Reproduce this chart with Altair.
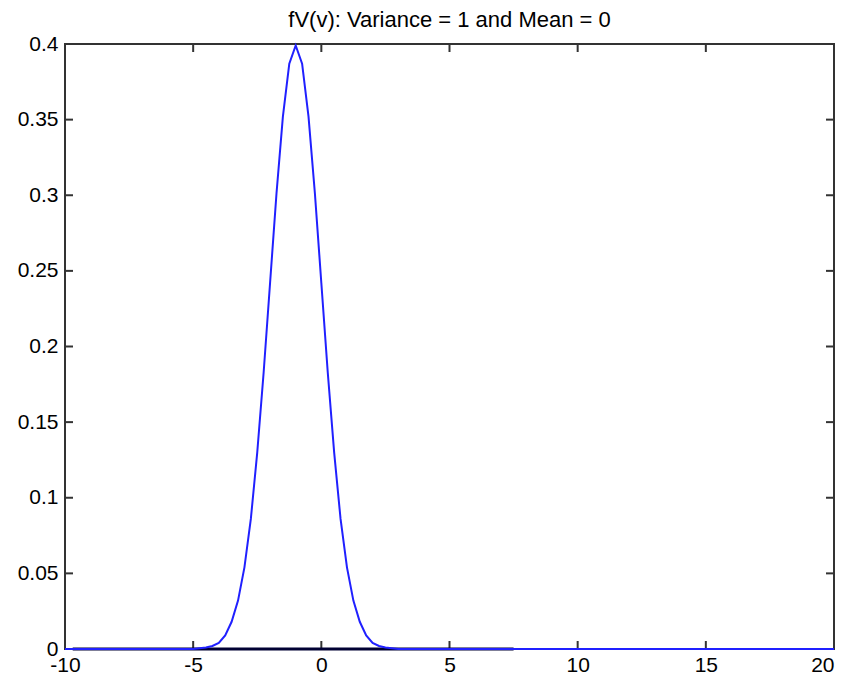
import altair as alt
import pandas as pd

# Curve f_V(v)
curve_x = [-10, -5, -4.5, -4.25, -4, -3.75, -3.5, -3.25, -3, -2.75, -2.5, -2.25, -2,
           -1.75, -1.5, -1.25, -1, -0.75, -0.5, -0.25, 0, 0.25, 0.5, 0.75, 1, 1.25,
           1.5, 1.75, 2, 2.25, 2.5, 3, 20]
curve_y = [0, 0, 0.001, 0.002, 0.004, 0.009, 0.018, 0.032, 0.054, 0.086, 0.130, 0.183,
           0.242, 0.301, 0.352, 0.387, 0.399, 0.387, 0.352, 0.301, 0.242, 0.183, 0.130,
           0.086, 0.054, 0.032, 0.018, 0.009, 0.004, 0.002, 0.001, 0, 0]

# darker segment along zero
dark_x = [-9.7, 7.5]
dark_y = [0, 0]

x_ticks = [-10, -5, 0, 5, 10, 15, 20]
y_ticks = [0, 0.05, 0.1, 0.15, 0.2, 0.25, 0.3, 0.35, 0.4]

W, H = 769, 605
TL = 8
FONT = "Liberation Sans"
FS = 21

curve = pd.DataFrame({"x": curve_x, "y": curve_y})
dark = pd.DataFrame({"x": dark_x, "y": dark_y})
xt = pd.DataFrame({"x": x_ticks})
yt = pd.DataFrame({"y": y_ticks})

xs = alt.Scale(domain=[-10, 20], nice=False, zero=False)
ys = alt.Scale(domain=[0, 0.4], nice=False, zero=False)

x_axis = alt.Axis(values=x_ticks, labelExpr="toString(datum.value)", ticks=False,
                  domain=False, grid=False, labelPadding=5, labelFontSize=FS,
                  labelFont=FONT, labelColor="black", title=None, labelFlush=False,
                  labelAlign=alt.ExprRef("datum.value >= 20 ? 'right' : 'center'"))
y_axis = alt.Axis(values=y_ticks, labelExpr="toString(datum.value)", ticks=False,
                  domain=False, grid=False, labelPadding=7, labelFontSize=FS,
                  labelFont=FONT, labelColor="black", title=None, labelFlush=False)

dark_line = alt.Chart(dark).mark_line(color="#000033", strokeWidth=3, clip=False).encode(
    x=alt.X("x:Q", scale=xs, axis=x_axis),
    y=alt.Y("y:Q", scale=ys, axis=y_axis),
)
blue_line = alt.Chart(curve).mark_line(color="#2020ff", strokeWidth=2, clip=False).encode(
    x=alt.X("x:Q", scale=xs),
    y=alt.Y("y:Q", scale=ys),
)

tick_color = "#333333"
bottom_ticks = alt.Chart(xt).mark_rule(color=tick_color, strokeWidth=2).encode(
    x=alt.X("x:Q", scale=xs), y=alt.value(H), y2=alt.value(H - TL))
top_ticks = alt.Chart(xt).mark_rule(color=tick_color, strokeWidth=2).encode(
    x=alt.X("x:Q", scale=xs), y=alt.value(0), y2=alt.value(TL))
left_ticks = alt.Chart(yt).mark_rule(color=tick_color, strokeWidth=2).encode(
    y=alt.Y("y:Q", scale=ys), x=alt.value(0), x2=alt.value(TL))
right_ticks = alt.Chart(yt).mark_rule(color=tick_color, strokeWidth=2).encode(
    y=alt.Y("y:Q", scale=ys), x=alt.value(W - TL), x2=alt.value(W))

chart = alt.layer(
    bottom_ticks, top_ticks, left_ticks, right_ticks, dark_line, blue_line
).properties(
    width=W, height=H,
    title=alt.TitleParams("fV(v): Variance = 1 and Mean = 0", fontSize=22, font=FONT,
                          fontWeight="normal", color="black", offset=6, dy=22,
                          baseline="alphabetic", anchor="middle"),
    autosize=alt.AutoSizeParams(type="none"),
    padding={"left": 57, "top": 36, "right": 8, "bottom": 25},
    background="white",
).configure_view(stroke="#333333", strokeWidth=2)

chart.save("out.html", embed_options={"renderer": "svg", "actions": False})
